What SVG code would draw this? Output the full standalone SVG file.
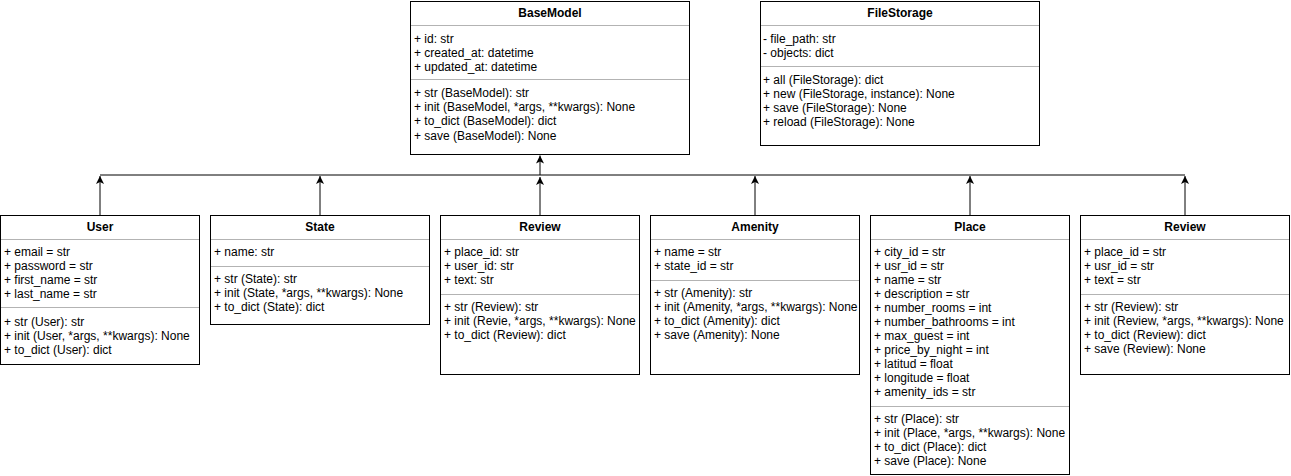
<svg xmlns="http://www.w3.org/2000/svg" width="1291" height="476" viewBox="0 0 1291 476">
<defs>
<style>
.box{fill:#fff;stroke:#000;stroke-width:1}
.sep{stroke:#b3b3b3;stroke-width:1}
.t{font-family:"Liberation Sans",Arial,sans-serif;font-size:12px;fill:#000}
.h{font-family:"Liberation Sans",Arial,sans-serif;font-size:12px;font-weight:bold;fill:#000;text-anchor:middle}
.edge{stroke:#000;stroke-width:1;fill:none}
</style>
<marker id="arr" viewBox="0 0 10 10" refX="10" refY="5" markerWidth="9" markerHeight="8" markerUnits="userSpaceOnUse" orient="auto">
<path d="M0,0 L10,5 L0,10 L2.5,5 Z" fill="#000"/>
</marker>
</defs>
<rect width="1291" height="476" fill="#fff"/>

<g id="connectors">
<path class="edge" d="M100,175 H1185"/>
<path class="edge" d="M540,175 V155.5" stroke-width="1.5" marker-end="url(#arr)"/>
<path class="edge" d="M100,215 V176" marker-end="url(#arr)"/>
<path class="edge" d="M320,215 V176" marker-end="url(#arr)"/>
<path class="edge" d="M540,215 V177" marker-end="url(#arr)"/>
<path class="edge" d="M755,215 V176" marker-end="url(#arr)"/>
<path class="edge" d="M970,215 V176" marker-end="url(#arr)"/>
<path class="edge" d="M1185,215 V176" marker-end="url(#arr)"/>
</g>

<g id="BaseModel">
<rect class="box" x="410.5" y="1.5" width="279" height="153"/>
<line class="sep" x1="411" y1="25.5" x2="689" y2="25.5"/>
<line class="sep" x1="411" y1="79.5" x2="689" y2="79.5"/>
<text class="h" x="550" y="17">BaseModel</text>
<text class="t" x="414" y="43">+ id: str</text>
<text class="t" x="414" y="57">+ created_at: datetime</text>
<text class="t" x="414" y="71">+ updated_at: datetime</text>
<text class="t" x="414" y="97">+ str (BaseModel): str</text>
<text class="t" x="414" y="111">+ init (BaseModel, *args, **kwargs): None</text>
<text class="t" x="414" y="125">+ to_dict (BaseModel): dict</text>
<text class="t" x="414" y="140">+ save (BaseModel): None</text>
</g>

<g id="FileStorage">
<rect class="box" x="760.5" y="1.5" width="279" height="144"/>
<line class="sep" x1="761" y1="25.5" x2="1039" y2="25.5"/>
<line class="sep" x1="761" y1="66.5" x2="1039" y2="66.5"/>
<text class="h" x="900" y="17">FileStorage</text>
<text class="t" x="763" y="43">- file_path: str</text>
<text class="t" x="763" y="57">- objects: dict</text>
<text class="t" x="763" y="84">+ all (FileStorage): dict</text>
<text class="t" x="763" y="98">+ new (FileStorage, instance): None</text>
<text class="t" x="763" y="112">+ save (FileStorage): None</text>
<text class="t" x="763" y="126">+ reload (FileStorage): None</text>
</g>

<g id="User">
<rect class="box" x="0.5" y="215.5" width="199" height="149"/>
<line class="sep" x1="1" y1="239.5" x2="199" y2="239.5"/>
<line class="sep" x1="1" y1="307.5" x2="199" y2="307.5"/>
<text class="h" x="100" y="231">User</text>
<text class="t" x="4" y="256">+ email = str</text>
<text class="t" x="4" y="270">+ password = str</text>
<text class="t" x="4" y="284">+ first_name = str</text>
<text class="t" x="4" y="298">+ last_name = str</text>
<text class="t" x="4" y="326">+ str (User): str</text>
<text class="t" x="4" y="340">+ init (User, *args, **kwargs): None</text>
<text class="t" x="4" y="354">+ to_dict (User): dict</text>
</g>

<g id="State">
<rect class="box" x="210.5" y="215.5" width="219" height="109"/>
<line class="sep" x1="211" y1="239.5" x2="429" y2="239.5"/>
<line class="sep" x1="211" y1="266.5" x2="429" y2="266.5"/>
<text class="h" x="320" y="231">State</text>
<text class="t" x="214" y="256">+ name: str</text>
<text class="t" x="214" y="283">+ str (State): str</text>
<text class="t" x="214" y="297">+ init (State, *args, **kwargs): None</text>
<text class="t" x="214" y="311">+ to_dict (State): dict</text>
</g>

<g id="Review">
<rect class="box" x="440.5" y="215.5" width="199" height="159"/>
<line class="sep" x1="441" y1="239.5" x2="639" y2="239.5"/>
<line class="sep" x1="441" y1="294.5" x2="639" y2="294.5"/>
<text class="h" x="540" y="231">Review</text>
<text class="t" x="444" y="256">+ place_id: str</text>
<text class="t" x="444" y="270">+ user_id: str</text>
<text class="t" x="444" y="284">+ text: str</text>
<text class="t" x="444" y="311">+ str (Review): str</text>
<text class="t" x="444" y="325">+ init (Revie, *args, **kwargs): None</text>
<text class="t" x="444" y="339">+ to_dict (Review): dict</text>
</g>

<g id="Amenity">
<rect class="box" x="650.5" y="215.5" width="209" height="159"/>
<line class="sep" x1="651" y1="239.5" x2="859" y2="239.5"/>
<line class="sep" x1="651" y1="280.5" x2="859" y2="280.5"/>
<text class="h" x="755" y="231">Amenity</text>
<text class="t" x="654" y="256">+ name = str</text>
<text class="t" x="654" y="270">+ state_id = str</text>
<text class="t" x="654" y="297">+ str (Amenity): str</text>
<text class="t" x="654" y="311">+ init (Amenity, *args, **kwargs): None</text>
<text class="t" x="654" y="325">+ to_dict (Amenity): dict</text>
<text class="t" x="654" y="339">+ save (Amenity): None</text>
</g>

<g id="Place">
<rect class="box" x="870.5" y="215.5" width="199" height="259"/>
<line class="sep" x1="871" y1="239.5" x2="1069" y2="239.5"/>
<line class="sep" x1="871" y1="406.5" x2="1069" y2="406.5"/>
<text class="h" x="970" y="231">Place</text>
<text class="t" x="874" y="256">+ city_id = str</text>
<text class="t" x="874" y="270">+ usr_id = str</text>
<text class="t" x="874" y="284">+ name = str</text>
<text class="t" x="874" y="298">+ description = str</text>
<text class="t" x="874" y="312">+ number_rooms = int</text>
<text class="t" x="874" y="326">+ number_bathrooms = int</text>
<text class="t" x="874" y="340">+ max_guest = int</text>
<text class="t" x="874" y="354">+ price_by_night = int</text>
<text class="t" x="874" y="368">+ latitud = float</text>
<text class="t" x="874" y="382">+ longitude = float</text>
<text class="t" x="874" y="396">+ amenity_ids = str</text>
<text class="t" x="874" y="423">+ str (Place): str</text>
<text class="t" x="874" y="437">+ init (Place, *args, **kwargs): None</text>
<text class="t" x="874" y="451">+ to_dict (Place): dict</text>
<text class="t" x="874" y="465">+ save (Place): None</text>
</g>

<g id="Review2">
<rect class="box" x="1080.5" y="215.5" width="209" height="159"/>
<line class="sep" x1="1081" y1="239.5" x2="1289" y2="239.5"/>
<line class="sep" x1="1081" y1="294.5" x2="1289" y2="294.5"/>
<text class="h" x="1185" y="231">Review</text>
<text class="t" x="1084" y="256">+ place_id = str</text>
<text class="t" x="1084" y="270">+ usr_id = str</text>
<text class="t" x="1084" y="284">+ text = str</text>
<text class="t" x="1084" y="311">+ str (Review): str</text>
<text class="t" x="1084" y="325">+ init (Review, *args, **kwargs): None</text>
<text class="t" x="1084" y="339">+ to_dict (Review): dict</text>
<text class="t" x="1084" y="353">+ save (Review): None</text>
</g>
</svg>
